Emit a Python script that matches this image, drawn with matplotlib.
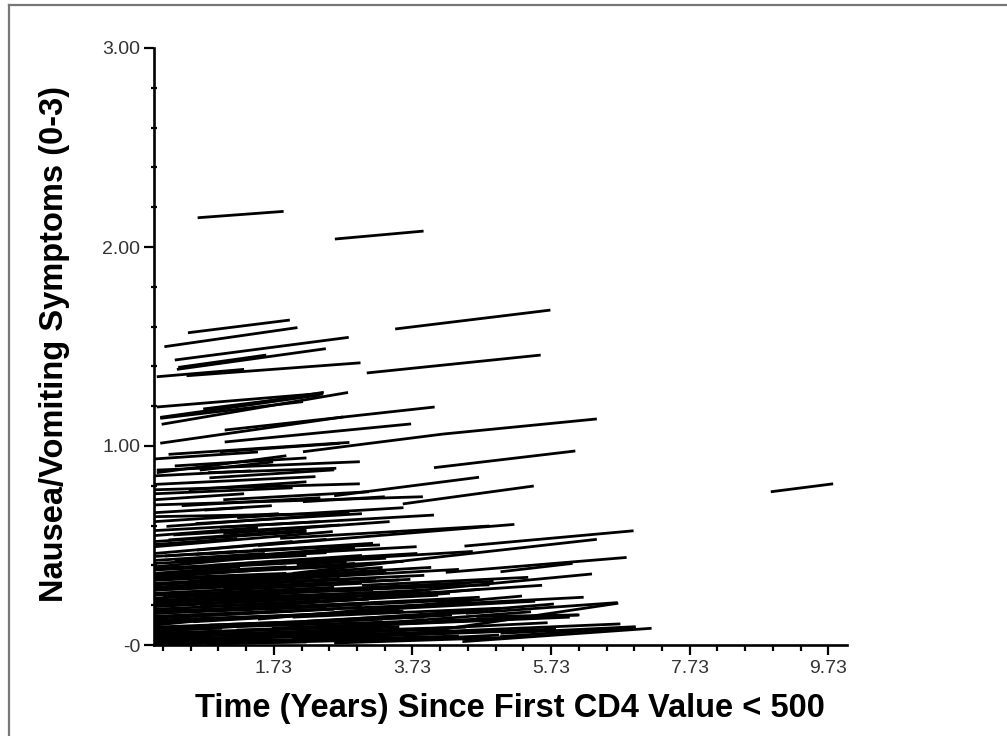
import matplotlib
matplotlib.use("Agg")
import matplotlib.pyplot as plt
from matplotlib.lines import Line2D

plt.rcParams['font.family'] = ['Liberation Sans', 'DejaVu Sans']

# fitted trajectories: start time, start value, end time, end value
t_start = [0.63, 2.61, 0.49, 0.15, 0.30, 0.35, 0.33, 0.04, 0.47, 3.48,
           3.07, 0.04, 0.71, 0.09, 0.11, 0.09, 1.00, 0.09, 1.02, 1.02,
           0.21, 0.95, 2.15, 4.17, 0.04, 0.04, 0.66, 0.78, 4.04, 0.01,
           0.01, 0.50, 0.01, 2.15, 0.73, 3.59, 0.01, 0.18, 0.95, 0.01,
           0.28, 0.21, 1.82, 2.60, 1.50, 4.48, 2.00, 4.21, 5.00, 2.50,
           3.83, 1.50, 3.54, 4.50, 4.65, 3.54, 3.54, 3.54, 4.45, 5.00,
           3.54, 4.00, 4.00, 4.99, 0.16, 0.62, 1.10, 1.43, 0.01, 0.01,
           2.06, 0.01, 0.01, 0.13, 0.01, 0.66, 0.01, 0.01, 0.01, 0.01,
           0.01, 0.76, 1.10, 0.01, 0.01, 0.01, 0.01, 0.01, 0.18, 0.01,
           0.01, 0.01, 0.57, 0.01, 0.01, 1.19, 0.01, 0.01, 0.30, 0.01,
           0.80, 0.01, 0.50, 0.01, 1.00, 0.01, 0.40, 0.01, 1.20, 0.01,
           0.30, 0.01, 1.50, 0.01, 0.20, 0.01, 1.00, 0.01, 0.50, 2.00,
           2.50, 2.20, 2.80, 2.40, 3.00, 2.70, 1.80, 0.01, 0.01, 0.40,
           0.01, 1.00, 0.01, 0.80, 0.01, 0.01, 8.90,
           0.01, 0.60, 0.01, 1.30, 0.01, 0.90, 0.01, 1.50, 0.01, 0.70,
           0.01, 1.80, 0.01, 0.90, 0.01, 0.01, 1.60, 0.01, 0.50, 0.01,
           2.00, 0.01, 0.80, 0.01, 1.70, 0.01, 0.01, 1.20, 0.01, 0.01,
           1.60, 0.01, 2.60, 3.00, 3.20, 3.40, 3.00, 2.20,
           0.01, 0.60, 0.01, 1.20, 0.01, 1.00, 0.01, 0.30, 0.01]
y_start = [2.147, 2.040, 1.569, 1.499, 1.432, 1.395, 1.385, 1.348, 1.353, 1.588,
           1.367, 1.196, 1.186, 1.144, 1.109, 1.139, 1.190, 1.014, 1.080, 1.020,
           0.958, 0.971, 0.971, 1.060, 0.879, 0.866, 0.879, 0.866, 0.891, 0.780,
           0.807, 0.780, 0.704, 0.720, 0.678, 0.709, 0.645, 0.596, 0.591, 0.494,
           0.553, 0.528, 0.536, 0.750, 0.500, 0.497, 0.360, 0.365, 0.368, 0.230,
           0.254, 0.130, 0.142, 0.159, 0.143, 0.117, 0.059, 0.075, 0.017, 0.059,
           0.025, 0.120, 0.070, 0.042, 0.447, 0.477, 0.444, 0.477, 0.393, 0.357,
           0.402, 0.302, 0.276, 0.243, 0.209, 0.193, 0.159, 0.109, 0.067, 0.042,
           0.018, 0.005, 0.440, 0.377, 0.360, 0.335, 0.310, 0.276, 0.251, 0.218,
           0.193, 0.159, 0.117, 0.100, 0.075, 0.075, 0.034, 0.460, 0.420, 0.425,
           0.400, 0.340, 0.320, 0.290, 0.280, 0.260, 0.230, 0.235, 0.200, 0.180,
           0.140, 0.135, 0.100, 0.120, 0.085, 0.055, 0.040, 0.020, 0.010, 0.030,
           0.090, 0.120, 0.170, 0.200, 0.240, 0.280, 0.330, 0.005, 0.620, 0.700,
           0.550, 0.560, 0.730, 0.840, 0.935, 0.520, 0.770,
           0.445, 0.455, 0.410, 0.410, 0.385, 0.370, 0.350, 0.340, 0.325, 0.300,
           0.285, 0.270, 0.250, 0.215, 0.225, 0.200, 0.180, 0.170, 0.150, 0.145,
           0.140, 0.125, 0.100, 0.090, 0.085, 0.080, 0.060, 0.055, 0.048, 0.030,
           0.020, 0.010, 0.010, 0.045, 0.100, 0.190, 0.300, 0.420,
           0.575, 0.610, 0.665, 0.640, 0.760, 0.730, 0.850, 0.900, 0.505]
t_end = [1.87, 3.89, 1.96, 2.07, 2.81, 1.62, 2.48, 1.30, 2.98, 5.72,
         5.58, 2.44, 2.44, 2.39, 2.80, 2.15, 2.45, 2.73, 4.05, 3.71,
         2.82, 2.68, 4.17, 6.39, 2.97, 1.91, 1.72, 2.63, 6.08, 2.97,
         2.33, 2.20, 3.88, 3.33, 1.28, 5.48, 2.82, 2.75, 4.04, 2.58,
         2.68, 2.20, 4.84, 4.69, 5.20, 6.92, 6.39, 6.82, 6.04, 6.32,
         4.70, 5.31, 5.77, 6.69, 6.14, 5.44, 6.73, 5.68, 7.18, 6.95,
         4.98, 6.12, 6.70, 6.95, 3.16, 2.49, 3.79, 3.26, 2.68, 1.91,
         2.78, 3.35, 2.68, 4.84, 3.88, 3.16, 4.27, 2.49, 4.84, 3.64,
         2.68, 4.84, 2.49, 3.35, 1.24, 1.91, 3.35, 3.54, 3.16, 3.37,
         2.39, 2.49, 3.54, 1.00, 0.98, 1.98, 3.54, 2.00, 2.90, 1.60,
         3.00, 2.90, 3.30, 2.30, 3.70, 3.00, 3.40, 2.00, 4.10, 3.10,
         3.00, 2.60, 4.30, 3.60, 3.30, 2.80, 4.20, 3.90, 3.00, 5.20,
         5.00, 4.90, 5.50, 4.70, 5.60, 4.90, 4.40, 2.20, 1.80, 2.40,
         1.50, 3.40, 1.30, 2.60, 1.50, 2.20, 9.80,
         1.20, 2.90, 2.20, 3.80, 2.50, 3.60, 3.00, 4.00, 2.20, 3.90,
         3.20, 4.50, 2.60, 4.00, 3.30, 2.80, 4.60, 3.50, 3.80, 2.00,
         5.00, 3.20, 3.90, 2.70, 4.80, 3.80, 3.30, 4.50, 2.40, 3.60,
         4.40, 2.90, 5.30, 5.80, 6.00, 6.20, 5.40, 4.60,
         2.40, 3.00, 1.70, 3.60, 2.00, 3.10, 1.40, 2.20, 1.20]
y_end = [2.179, 2.080, 1.633, 1.595, 1.546, 1.457, 1.489, 1.385, 1.418, 1.683,
         1.457, 1.265, 1.261, 1.256, 1.269, 1.223, 1.270, 1.146, 1.196, 1.111,
         1.018, 1.013, 1.060, 1.136, 0.921, 0.951, 0.920, 0.888, 0.975, 0.810,
         0.846, 0.820, 0.745, 0.745, 0.690, 0.799, 0.662, 0.660, 0.653, 0.570,
         0.603, 0.578, 0.598, 0.843, 0.606, 0.574, 0.531, 0.440, 0.410, 0.357,
         0.280, 0.246, 0.206, 0.213, 0.151, 0.167, 0.106, 0.112, 0.084, 0.092,
         0.050, 0.151, 0.210, 0.089, 0.511, 0.531, 0.494, 0.503, 0.477, 0.393,
         0.419, 0.368, 0.335, 0.302, 0.276, 0.235, 0.260, 0.159, 0.176, 0.075,
         0.030, 0.040, 0.464, 0.436, 0.393, 0.360, 0.368, 0.327, 0.276, 0.251,
         0.235, 0.193, 0.176, 0.134, 0.084, 0.084, 0.092, 0.520, 0.490, 0.460,
         0.450, 0.410, 0.390, 0.340, 0.330, 0.310, 0.290, 0.270, 0.250, 0.230,
         0.190, 0.180, 0.150, 0.170, 0.130, 0.090, 0.080, 0.060, 0.030, 0.070,
         0.130, 0.170, 0.220, 0.240, 0.300, 0.320, 0.380, 0.015, 0.660, 0.740,
         0.590, 0.620, 0.760, 0.880, 0.970, 0.570, 0.810,
         0.470, 0.500, 0.450, 0.460, 0.430, 0.420, 0.400, 0.390, 0.360, 0.350,
         0.335, 0.310, 0.290, 0.265, 0.265, 0.240, 0.230, 0.215, 0.200, 0.170,
         0.185, 0.165, 0.140, 0.125, 0.125, 0.120, 0.095, 0.090, 0.070, 0.060,
         0.045, 0.030, 0.040, 0.080, 0.140, 0.240, 0.340, 0.470,
         0.620, 0.660, 0.700, 0.690, 0.790, 0.770, 0.875, 0.940, 0.535]

x_ticks = [1.73, 3.73, 5.73, 7.73, 9.73]
x_tick_labels = ["1.73", "3.73", "5.73", "7.73", "9.73"]
y_ticks = [0, 1, 2, 3]
y_tick_labels = ["-0", "1.00", "2.00", "3.00"]

fig = plt.figure(figsize=(10.07, 7.36), dpi=100)
ax = fig.add_axes([154 / 1007, 1 - 645 / 736, 693 / 1007, 597 / 736])

for a, b, c, d in zip(t_start, y_start, t_end, y_end):
    ax.plot([a, c], [b, d], color='black', linewidth=2.0, solid_capstyle='butt')

ax.set_xlim(0, 10)
ax.set_ylim(0, 3)
ax.spines['top'].set_visible(False)
ax.spines['right'].set_visible(False)
ax.spines['left'].set_linewidth(1.9)
ax.spines['bottom'].set_linewidth(1.9)

ax.set_xticks(x_ticks)
ax.set_xticklabels(x_tick_labels)
ax.set_xticks([0.13 + 0.4 * k for k in range(25) if k % 5 != 4], minor=True)
ax.set_yticks(y_ticks)
ax.set_yticklabels(y_tick_labels)
ax.set_yticks([0.2 * k for k in range(16) if k % 5 != 0], minor=True)

ax.tick_params(axis='both', which='major', direction='out', length=7, width=1.6,
               labelsize=14, labelcolor='#333333')
ax.tick_params(axis='x', which='major', pad=4)
ax.tick_params(axis='y', which='major', pad=3)
ax.tick_params(axis='x', which='minor', direction='out', length=4.5, width=1.6)
ax.tick_params(axis='y', which='minor', direction='inout', length=5, width=1.6)

fig.text(510 / 1007, 1 - 709 / 736, "Time (Years) Since First CD4 Value < 500",
         ha='center', va='center', fontsize=23.5, fontweight='bold')
fig.text(55 / 1007, 1 - 344 / 736, "Nausea/Vomiting Symptoms (0-3)",
         ha='center', va='center', rotation=90, fontsize=23.5, fontweight='bold')

# outer frame (top and left edges)
fig.add_artist(Line2D([9 / 1007, 9 / 1007], [0, 1 - 4.5 / 736], transform=fig.transFigure,
                      color='#777777', linewidth=1.6))
fig.add_artist(Line2D([9 / 1007, 1], [1 - 4.5 / 736, 1 - 4.5 / 736], transform=fig.transFigure,
                      color='#777777', linewidth=1.6))

fig.savefig("out.png", dpi=100)
